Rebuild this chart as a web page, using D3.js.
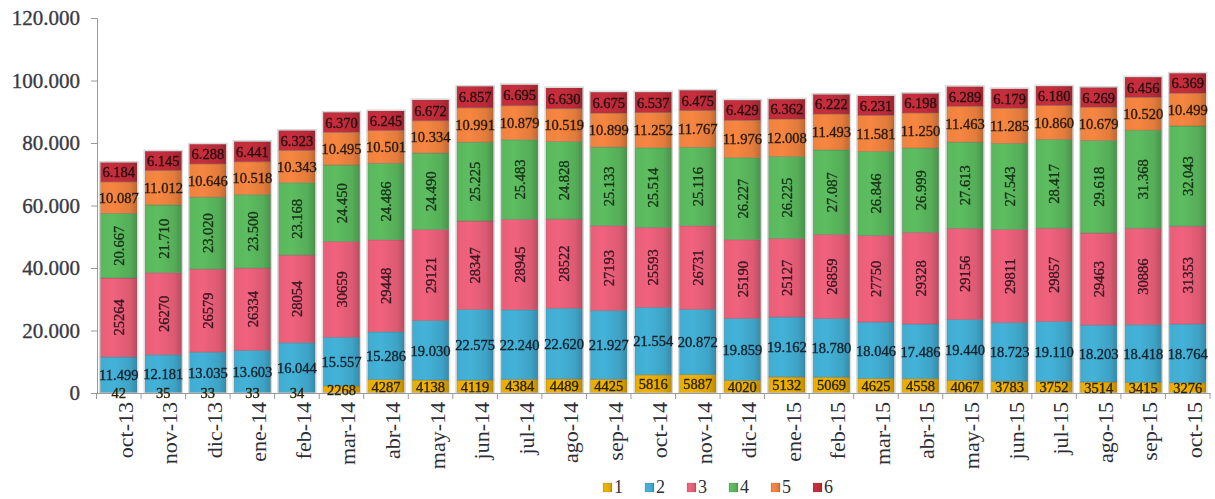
<!DOCTYPE html>
<html>
<head>
<meta charset="utf-8">
<script src="https://cdn.jsdelivr.net/npm/d3@7/dist/d3.min.js"></script>
<style>
  html, body { margin: 0; padding: 0; background: #fff; }
  svg { display: block; }
</style>
</head>
<body>
<svg id="chart" width="1215" height="499"></svg>
<script>
// Monthly categories
const months = ["oct-13","nov-13","dic-13","ene-14","feb-14","mar-14","abr-14","may-14","jun-14","jul-14","ago-14","sep-14","oct-14","nov-14","dic-14","ene-15","feb-15","mar-15","abr-15","may-15","jun-15","jul-15","ago-15","sep-15","oct-15"];

// Stacked series, bottom to top
const serie1 = [42,35,33,33,34,2268,4287,4138,4119,4384,4489,4425,5816,5887,4020,5132,5069,4625,4558,4067,3783,3752,3514,3415,3276];
const serie2 = [11499,12181,13035,13603,16044,15557,15286,19030,22575,22240,22620,21927,21554,20872,19859,19162,18780,18046,17486,19440,18723,19110,18203,18418,18764];
const serie3 = [25264,26270,26579,26334,28054,30659,29448,29121,28347,28945,28522,27193,25593,26731,25190,25127,26859,27750,29328,29156,29811,29857,29463,30886,31353];
const serie4 = [20667,21710,23020,23500,23168,24450,24486,24490,25225,25483,24828,25133,25514,25116,26227,26225,27087,26846,26999,27613,27543,28417,29618,31368,32043];
const serie5 = [10087,11012,10646,10518,10343,10495,10501,10334,10991,10879,10519,10899,11252,11767,11976,12008,11493,11581,11250,11463,11285,10860,10679,10520,10499];
const serie6 = [6184,6145,6288,6441,6323,6370,6245,6672,6857,6695,6630,6675,6537,6475,6429,6362,6222,6231,6198,6289,6179,6180,6269,6456,6369];

const seriesNames = ["1","2","3","4","5","6"];
const yTicks = [0,20000,40000,60000,80000,100000,120000];

const seriesValues = [serie1, serie2, serie3, serie4, serie5, serie6];
const colors = ["#dba400","#3ea3c6","#dc5a72","#55ad58","#e27b3b","#b62a38"];
const labelColors = ["#2a2208","#14222c","#3a1620","#173217","#2a1a0e","#2a0e10"];
// label number style: series 1 and 3 show plain integers, the rest use "." grouping
const dotted = [false,true,false,true,true,true];
const rotated = [false,false,true,true,false,false];

const fmtDot = v => {
  const s = String(v);
  return s.length > 3 ? s.slice(0, s.length - 3) + "." + s.slice(-3) : s;
};
const yFmt = v => v === 0 ? "0" : fmtDot(v);

const rows = months.map((m, i) => {
  const r = { month: m };
  seriesNames.forEach((k, j) => r[k] = seriesValues[j][i]);
  return r;
});
const stacked = d3.stack().keys(seriesNames)(rows);

const svg = d3.select("#chart");
const x = d3.scaleBand().domain(months).range([96.5, 1210]).paddingInner(0.18).paddingOuter(0.09);
const y = d3.scaleLinear().domain([0, 120000]).range([393, 18]);

// gradients for the shaded bars
const defs = svg.append("defs");
colors.forEach((c, i) => {
  const g = defs.append("linearGradient").attr("id", "grad" + i)
    .attr("x1", "0%").attr("x2", "100%").attr("y1", "0%").attr("y2", "0%");
  const base = d3.color(c);
  g.append("stop").attr("offset", "0%").attr("stop-color", base.brighter(0.15));
  g.append("stop").attr("offset", "35%").attr("stop-color", base.brighter(0.25));
  g.append("stop").attr("offset", "80%").attr("stop-color", base);
  g.append("stop").attr("offset", "100%").attr("stop-color", base.darker(0.45));
});
const fade = defs.append("filter").attr("id", "soft").attr("x", "-10%").attr("y", "-10%").attr("width", "120%").attr("height", "120%");
fade.append("feGaussianBlur").attr("stdDeviation", 0.35);

// y axis
const yAxis = svg.append("g").attr("transform", "translate(97,0)")
  .call(d3.axisLeft(y).tickValues(yTicks).tickFormat(yFmt).tickSize(6).tickPadding(11));
yAxis.select(".domain").attr("stroke", "#9a9a9a");
yAxis.selectAll(".tick line").attr("stroke", "#9a9a9a");
yAxis.selectAll(".tick text")
  .attr("font-family", "'Liberation Serif', serif").attr("font-size", 21)
  .attr("fill", "#3a3a42").attr("stroke", "#3a3a42").attr("stroke-width", 0.35);

// bars
const barW = x.bandwidth();
const layers = svg.append("g").selectAll("g").data(stacked).join("g")
  .attr("fill", (d, i) => `url(#grad${i})`);
layers.selectAll("rect").data(d => d).join("rect")
  .attr("x", d => x(d.data.month))
  .attr("y", d => y(d[1]))
  .attr("width", barW)
  .attr("height", d => Math.max(0, y(d[0]) - y(d[1])))
  .attr("stroke", "rgba(90,90,90,0.35)")
  .attr("stroke-width", 0.8);

// outline around each full bar
svg.append("g").selectAll("rect").data(rows).join("rect")
  .attr("x", d => x(d.month) - 1)
  .attr("y", (d, i) => y(stacked[5][i][1]) - 1)
  .attr("width", barW + 2)
  .attr("height", (d, i) => y(0) - y(stacked[5][i][1]) + 1)
  .attr("fill", "none")
  .attr("stroke", "#d4d4d4")
  .attr("stroke-width", 1);

// x axis
const xAxis = svg.append("g").attr("transform", "translate(0,393)")
  .call(d3.axisBottom(x).tickSize(0).tickFormat(""));
xAxis.select(".domain").attr("stroke", "#9a9a9a");
// ticks between categories
const step = x.step();
const bounds = d3.range(months.length + 1).map(i => x(months[0]) - x.paddingInner() * step / 2 + i * step);
svg.append("g").selectAll("line").data(bounds).join("line")
  .attr("x1", d => d).attr("x2", d => d)
  .attr("y1", 393).attr("y2", 399)
  .attr("stroke", "#9a9a9a");

// month labels
svg.append("g").selectAll("text").data(months).join("text")
  .attr("transform", d => `translate(${x(d) + barW / 2 + 14},402) rotate(-90)`)
  .attr("text-anchor", "end")
  .attr("font-family", "'Liberation Serif', serif")
  .attr("font-size", 22)
  .attr("fill", "#2e2e36")
  .text(d => d);

// value labels
const labels = svg.append("g").attr("filter", "url(#soft)");
stacked.forEach((layer, i) => {
  labels.append("g").selectAll("text").data(layer).join("text")
    .attr("transform", d => {
      const cx = x(d.data.month) + barW / 2;
      const cy = (y(d[0]) + y(d[1])) / 2;
      return rotated[i] ? `translate(${cx},${cy}) rotate(-90)` : `translate(${cx},${cy})`;
    })
    .attr("text-anchor", "middle")
    .attr("dy", "0.36em")
    .attr("font-family", "'Liberation Serif', serif")
    .attr("font-size", 14.5)
    .attr("fill", labelColors[i])
    .attr("stroke", labelColors[i])
    .attr("stroke-width", 0.35)
    .text(d => {
      const v = d[1] - d[0];
      return dotted[i] ? fmtDot(v) : String(v);
    });
});

// legend
const legend = svg.append("g").attr("transform", "translate(603,482)");
const item = legend.selectAll("g").data(seriesNames).join("g")
  .attr("transform", (d, i) => `translate(${i * 42},0)`);
item.append("rect").attr("width", 9).attr("height", 9).attr("y", 1)
  .attr("fill", (d, i) => `url(#grad${i})`)
  .attr("stroke", "rgba(90,90,90,0.3)").attr("stroke-width", 0.6);
item.append("text").attr("x", 11).attr("y", 11)
  .attr("font-family", "'Liberation Serif', serif")
  .attr("font-size", 18)
  .attr("fill", "#2e2e36")
  .text(d => d);
</script>
</body>
</html>
